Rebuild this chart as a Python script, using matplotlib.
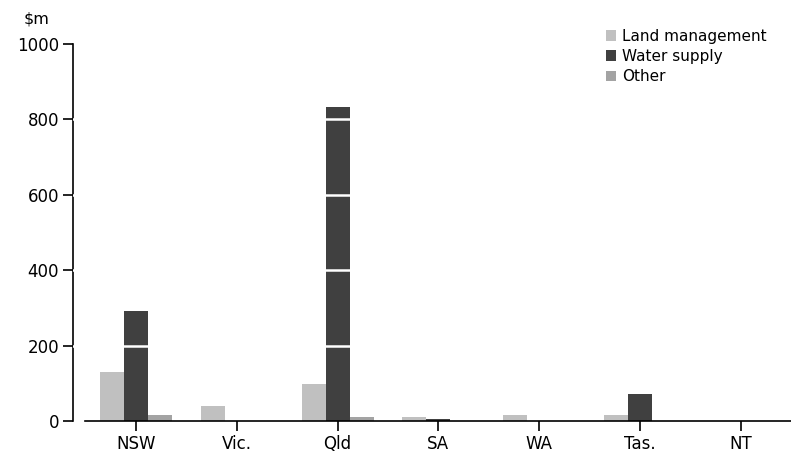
import numpy as np
import matplotlib.pyplot as plt

plt.rcParams['font.family'] = ['DejaVu Sans']

states = ["NSW", "Vic.", "Qld", "SA", "WA", "Tas.", "NT"]
land_mgmt = [131, 40, 98, 10, 16, 16, 0]
water_supply = [292, 0, 833, 5, 0, 72, 0]
other = [16, 0, 11, 0, 0, 0, 0]
y_ticks = [0, 200, 400, 600, 800, 1000]

series = [("Land management", land_mgmt, "#c0c0c0"),
          ("Water supply", water_supply, "#404040"),
          ("Other", other, "#a3a3a3")]

fig = plt.figure(figsize=(7.91, 4.54), dpi=100)
ax = fig.add_axes([73 / 791, 33 / 454, 1 - 73 / 791, (421 - 44) / 454])

x = np.arange(len(states))
w = 0.238
for i, (name, vals, col) in enumerate(series):
    ax.bar(x + (i - 1) * w, vals, w, color=col, label=name, zorder=2)

# white gridlines show only over the bars
for t in y_ticks[1:-1]:
    ax.axhline(t, color="white", lw=1.8, zorder=3)

ax.set_xlim(-0.625, 6.5)
ax.set_ylim(0, 1000)
ax.set_xticks(x)
ax.set_xticklabels(states, fontsize=12)
ax.set_yticks(y_ticks)
ax.set_yticklabels([str(t) for t in y_ticks], fontsize=12)

ax.spines['top'].set_visible(False)
ax.spines['right'].set_visible(False)
ax.spines['bottom'].set_bounds(-0.506, 6.5)
ax.spines['left'].set_linewidth(1.2)
ax.spines['bottom'].set_linewidth(1.2)
ax.tick_params(axis='both', length=7, width=1.2, color="black")
ax.tick_params(axis='y', pad=3)
ax.tick_params(axis='x', pad=3)

fig.text(37 / 791, 1 - 19 / 454, "$m", fontsize=11.5, ha="center", va="center")

leg = ax.legend(loc="upper left", frameon=False, fontsize=11,
                handlelength=0.7, handleheight=0.7, handletextpad=0.4,
                labelspacing=0.35, borderpad=0)
leg.set_bbox_to_anchor((598 / 791, 1 - 21 / 454), transform=fig.transFigure)

fig.savefig("out.png", dpi=100)
